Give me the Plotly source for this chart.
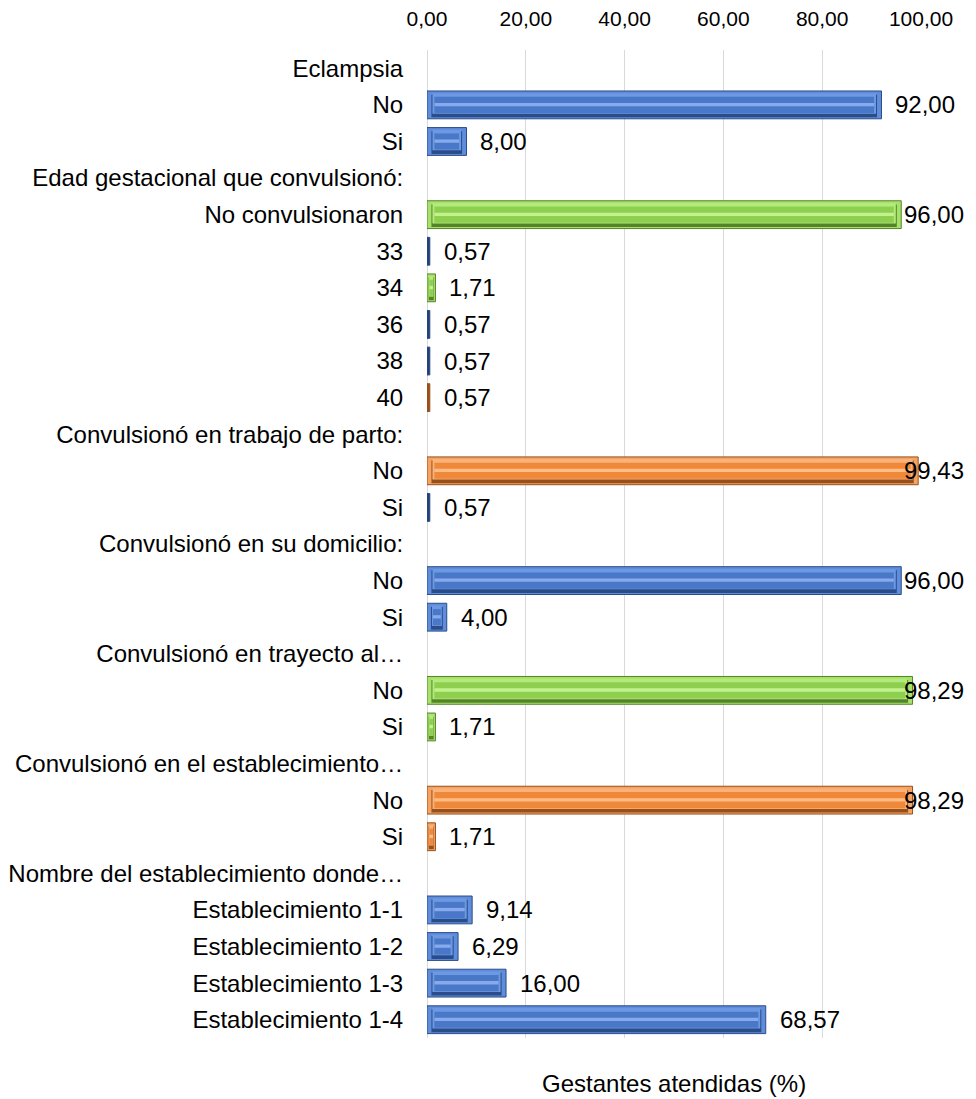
import plotly.graph_objects as go

# Rows of the chart, top to bottom (section headings have no bar)
categories = [
    "Eclampsia", "No", "Si",
    "Edad gestacional que convulsionó:", "No convulsionaron", "33", "34", "36", "38", "40",
    "Convulsionó en trabajo de parto:", "No", "Si",
    "Convulsionó en su domicilio:", "No", "Si",
    "Convulsionó en trayecto al…", "No", "Si",
    "Convulsionó en el establecimiento…", "No", "Si",
    "Nombre del establecimiento donde…",
    "Establecimiento 1-1", "Establecimiento 1-2", "Establecimiento 1-3", "Establecimiento 1-4",
]
values = [
    None, 92.00, 8.00,
    None, 96.00, 0.57, 1.71, 0.57, 0.57, 0.57,
    None, 99.43, 0.57,
    None, 96.00, 4.00,
    None, 98.29, 1.71,
    None, 98.29, 1.71,
    None, 9.14, 6.29, 16.00, 68.57,
]
bar_groups = [
    "", "blue", "blue",
    "", "green", "blue", "green", "blue", "blue", "orange",
    "", "orange", "blue",
    "", "blue", "blue",
    "", "green", "green",
    "", "orange", "orange",
    "", "blue", "blue", "blue", "blue",
]
x_ticks = [0, 20, 40, 60, 80, 100]
x_max = 100
axis_title = "Gestantes atendidas (%)"

# Bevelled fill: outer frame, dark lower edge, light upper edge, face, shine
palette = {
    "blue":   {"frame": "#5f8ddc", "edge": "#2a4c88", "light": "#6d98e2",
               "face": "#4a78c8", "shine": "#86aaec", "thin": "#223f72"},
    "green":  {"frame": "#a6e16b", "edge": "#56832a", "light": "#b4ea7c",
               "face": "#8fcf50", "shine": "#c2f28c", "thin": "#5e9a2c"},
    "orange": {"frame": "#f6a262", "edge": "#95501b", "light": "#f9b27a",
               "face": "#ef8838", "shine": "#ffbd85", "thin": "#9a4f1a"},
}

FONT = "Liberation Sans, Arial, sans-serif"
rows = [i for i, v in enumerate(values) if v is not None]
vals = [values[i] for i in rows]
groups = [bar_groups[i] for i in rows]


def layer(width, shift, inset_frac, inset_max, colour_key):
    insets = [min(inset_max, v * inset_frac) for v in vals]
    return go.Bar(
        orientation="h",
        y=rows,
        x=[v - 2 * s for v, s in zip(vals, insets)],
        base=insets,
        width=width,
        offset=-width / 2 + shift,
        marker=dict(color=[palette[g][colour_key] for g in groups], line=dict(width=0)),
        hoverinfo="skip",
        showlegend=False,
    )


fig = go.Figure()
# Hairline bars read as their dark edge colour
fig.add_trace(go.Bar(
    orientation="h",
    y=rows,
    x=vals,
    width=0.76,
    marker=dict(
        color=[palette[g]["thin"] if v < 1 else palette[g]["frame"] for g, v in zip(groups, vals)],
        line=dict(color=[palette[g]["edge"] for g in groups], width=1),
    ),
    hoverinfo="skip",
    showlegend=False,
))
thick = [v >= 1 for v in vals]
for tr in (layer(0.62, 0.03, 0.2, 0.9, "edge"),
           layer(0.56, -0.04, 0.25, 1.1, "light"),
           layer(0.44, 0.0, 0.3, 1.5, "face"),
           layer(0.09, -0.01, 0.3, 1.5, "shine")):
    tr.update(
        y=[r for r, k in zip(tr.y, thick) if k],
        x=[x for x, k in zip(tr.x, thick) if k],
        base=[b for b, k in zip(tr.base, thick) if k],
        marker_color=[c for c, k in zip(tr.marker.color, thick) if k],
    )
    fig.add_trace(tr)

# Value labels: just past the bar end, held inside the figure on the right
label_gap = 2.4
label_width = 13.0
right_limit = 109.1
for r, v in zip(rows, vals):
    text = f"{v:.2f}".replace(".", ",")
    if v + label_gap + label_width > right_limit:
        x, anchor = right_limit, "right"
    else:
        x, anchor = v + label_gap, "left"
    fig.add_annotation(
        x=x / x_max, y=r, xref="paper", yref="y", text=text, showarrow=False,
        xanchor=anchor, yanchor="middle",
        font=dict(family=FONT, size=24, color="#000000"),
    )

fig.add_annotation(
    x=0.5, y=0, xref="paper", yref="paper", yshift=-45,
    text=axis_title, showarrow=False, xanchor="center", yanchor="middle",
    font=dict(family=FONT, size=24, color="#000000"),
)

fig.update_layout(
    width=976, height=1099,
    margin=dict(l=427, r=55, t=50, b=61),
    paper_bgcolor="white", plot_bgcolor="white",
    barmode="overlay",
    separators=", ",
    font=dict(family=FONT, size=24, color="#000000"),
    xaxis=dict(
        side="top", range=[0, x_max], tickvals=x_ticks, tickformat=".2f",
        automargin=False,
        showgrid=True, gridcolor="#d9d9d9", gridwidth=1,
        zeroline=True, zerolinecolor="#d9d9d9", zerolinewidth=1,
        showline=False, ticks="outside", ticklen=15, tickcolor="rgba(0,0,0,0)",
        tickfont=dict(family=FONT, size=21, color="#000000"),
    ),
    yaxis=dict(
        range=[len(categories) - 0.5, -0.5],
        tickvals=list(range(len(categories))), ticktext=categories,
        automargin=False,
        showgrid=False, zeroline=False, showline=False,
        ticks="outside", ticklen=18, tickcolor="rgba(0,0,0,0)",
        tickfont=dict(family=FONT, size=24, color="#000000"),
    ),
)

fig.write_html("out.html")
